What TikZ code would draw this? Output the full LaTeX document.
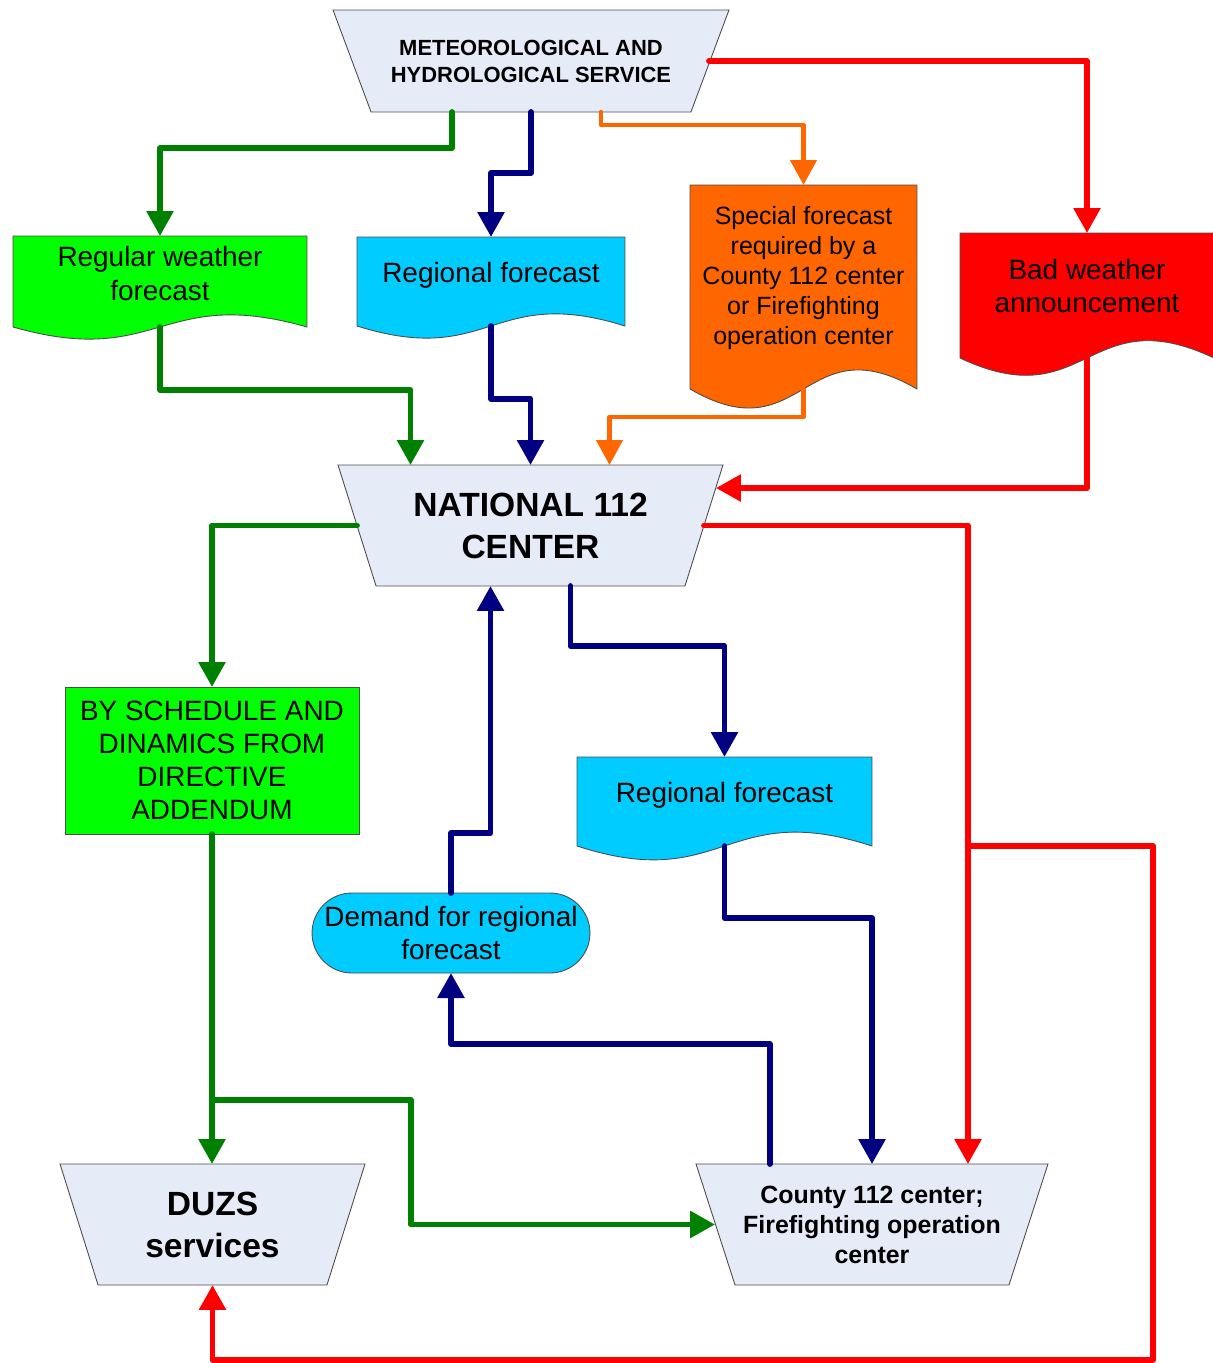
\documentclass[tikz,border=0pt]{standalone}
\usepackage{fontspec}
\setmainfont{Liberation Sans}
\usetikzlibrary{arrows.meta,calc,backgrounds}

\definecolor{boxgreen}{HTML}{00FF00}
\definecolor{boxblue}{HTML}{00CCFF}
\definecolor{boxorange}{HTML}{FF6600}
\definecolor{boxred}{HTML}{FF0000}
\definecolor{boxgray}{HTML}{E6ECF7}
\definecolor{linegreen}{HTML}{008000}
\definecolor{linenavy}{HTML}{000080}

% document shape (wavy bottom) behind node #1
\newcommand{\docshape}[4]{%
  \begin{scope}[on background layer]
    \filldraw[fill=#2, draw=black!70, line width=0.5pt]
      (#1.north west) -- ($(#1.south west)+(0,#3)$)
      .. controls ($(#1.south)+(0,#3+#4)$) and ($(#1.south)+(0,#3-#4)$) .. ($(#1.south east)+(0,#3)$)
      -- (#1.north east) -- cycle;
  \end{scope}
  \coordinate (#1-out) at ($(#1.south)+(0,#3)$);
}

% trapezium behind node #1, bottom edge inset by #2
\newcommand{\trapshape}[2]{%
  \begin{scope}[on background layer]
    \filldraw[fill=boxgray, draw=black!70, line width=0.5pt]
      (#1.north west) -- (#1.north east) -- ($(#1.south east)+(-#2,0)$)
      -- ($(#1.south west)+(#2,0)$) -- cycle;
  \end{scope}
}

\begin{document}
\begin{tikzpicture}[x=0.02cm, y=-0.02cm,
  box/.style={inner sep=0pt, outer sep=0pt, align=center},
  txt/.style={font=\fontsize{15.9}{18.8}\selectfont},
  bigtxt/.style={font=\bfseries\fontsize{19.1}{23.9}\selectfont},
  flow/.style={line width=0.115cm, line cap=round, line join=round,
    -{Triangle[length=0.5cm,width=0.52cm]}}]
  \useasboundingbox (0,0) rectangle (1213,1363);

  % Meteorological and hydrological service
  \node[box, minimum width=7.92cm, minimum height=2.04cm,
    font=\bfseries\fontsize{12.5}{15.4}\selectfont] (met) at (531,61)
    {METEOROLOGICAL AND\\HYDROLOGICAL SERVICE};
  \trapshape{met}{38}

  % Forecast documents
  \node[box, txt, minimum width=5.88cm, minimum height=1.5cm] (reg) at (160,273.5)
    {Regular weather\\forecast};
  \docshape{reg}{boxgreen}{16}{42}

  \node[box, txt, minimum width=5.36cm, minimum height=1.52cm] (regt) at (491,275)
    {Regional forecast};
  \docshape{regt}{boxblue}{13}{42}

  \node[box, font=\fontsize{14.2}{17.2}\selectfont, minimum width=4.54cm, minimum height=3.72cm]
    (spec) at (803.5,278)
    {Special forecast\\required by a\\County 112 center\\or Firefighting\\operation center};
  \docshape{spec}{boxorange}{18}{66}

  \node[box, txt, minimum width=5.08cm, minimum height=2.12cm] (bad) at (1087,286)
    {Bad weather\\announcement};
  \docshape{bad}{boxred}{19}{60}

  % National 112 center
  \node[box, bigtxt, minimum width=7.7cm, minimum height=2.42cm] (nat) at (530.5,525.5)
    {NATIONAL 112\\CENTER};
  \trapshape{nat}{38}

  % Schedule box
  \node[box, txt, draw=black!70, line width=0.5pt, fill=boxgreen,
    minimum width=5.88cm, minimum height=2.94cm] (sched) at (212,760.5)
    {BY SCHEDULE AND\\DINAMICS FROM\\DIRECTIVE\\ADDENDUM};

  % Lower regional forecast
  \node[box, txt, minimum width=5.9cm, minimum height=1.52cm] (regl) at (724.5,795)
    {Regional forecast};
  \docshape{regl}{boxblue}{13}{48}

  % Demand
  \node[box, txt, draw=black!70, line width=0.5pt, fill=boxblue, rounded corners=0.8cm,
    minimum width=5.56cm, minimum height=1.6cm] (dem) at (451,933)
    {Demand for regional\\forecast};

  % Receivers
  \node[box, bigtxt, minimum width=6.1cm, minimum height=2.42cm] (duzs) at (212.5,1224.5)
    {DUZS\\services};
  \trapshape{duzs}{38}

  \node[box, font=\bfseries\fontsize{14.2}{17.1}\selectfont, minimum width=7.04cm,
    minimum height=2.42cm] (county) at (872,1224.5)
    {County 112 center;\\Firefighting operation\\center};
  \trapshape{county}{39}

  \coordinate (cin) at ($(county.north)+(96,0)$);
  \coordinate (rbot) at (1153,1360);
  \coordinate (gsplit) at ($(sched.south)+(0,266)$);

  % Service to documents
  \draw[flow, linegreen] ($(met.south)+(-79,0)$) -- ++(0,36) -| (reg.north);
  \draw[flow, linenavy] (met.south) -- ++(0,61) -| (regt.north);
  \draw[flow, boxorange, line width=0.09cm] ($(met.south)+(70,0)$) -- ++(0,13) -| (spec.north);
  \draw[flow, boxred] ($(met.east)+(-20,0)$) -| (bad.north);

  % Documents to national center
  \draw[flow, linegreen] (reg-out) -- ++(0,63) -| ($(nat.north)+(-120,0)$);
  \draw[flow, linenavy] (regt-out) -- ++(0,73) -| (nat.north);
  \draw[flow, boxorange, line width=0.09cm] (spec-out) -- ++(0,28) -| ($(nat.north)+(79,0)$);
  \draw[flow, boxred] (bad-out) |- ($(nat.north east)+(-7,23)$);

  % National center outputs
  \draw[flow, linegreen] ($(nat.west)+(19,0)$) -| (sched.north);
  \draw[flow, boxred] ($(nat.east)+(-19,0)$) -| (cin);
  \draw[flow, boxred] (cin |- regl-out) -| (rbot) -| (duzs.south);
  \draw[flow, linenavy] ($(nat.south)+(40,0)$) -- ++(0,60) -| (regl.north);
  \draw[flow, linenavy] (dem.north) -- ++(0,-60) -| ($(nat.south)+(-40,0)$);
  \draw[flow, linenavy] (regl-out) -- ++(0,72) -| (county.north);
  \draw[flow, linenavy] ($(county.north)+(-102,0)$) -- ++(0,-120) -| (dem.south);

  % Schedule to receivers
  \draw[flow, linegreen] (sched.south) -- (sched.south |- duzs.north);
  \draw[flow, linegreen] (gsplit) -- ++(199,0) |- ($(county.west)+(19,0)$);
\end{tikzpicture}
\end{document}
